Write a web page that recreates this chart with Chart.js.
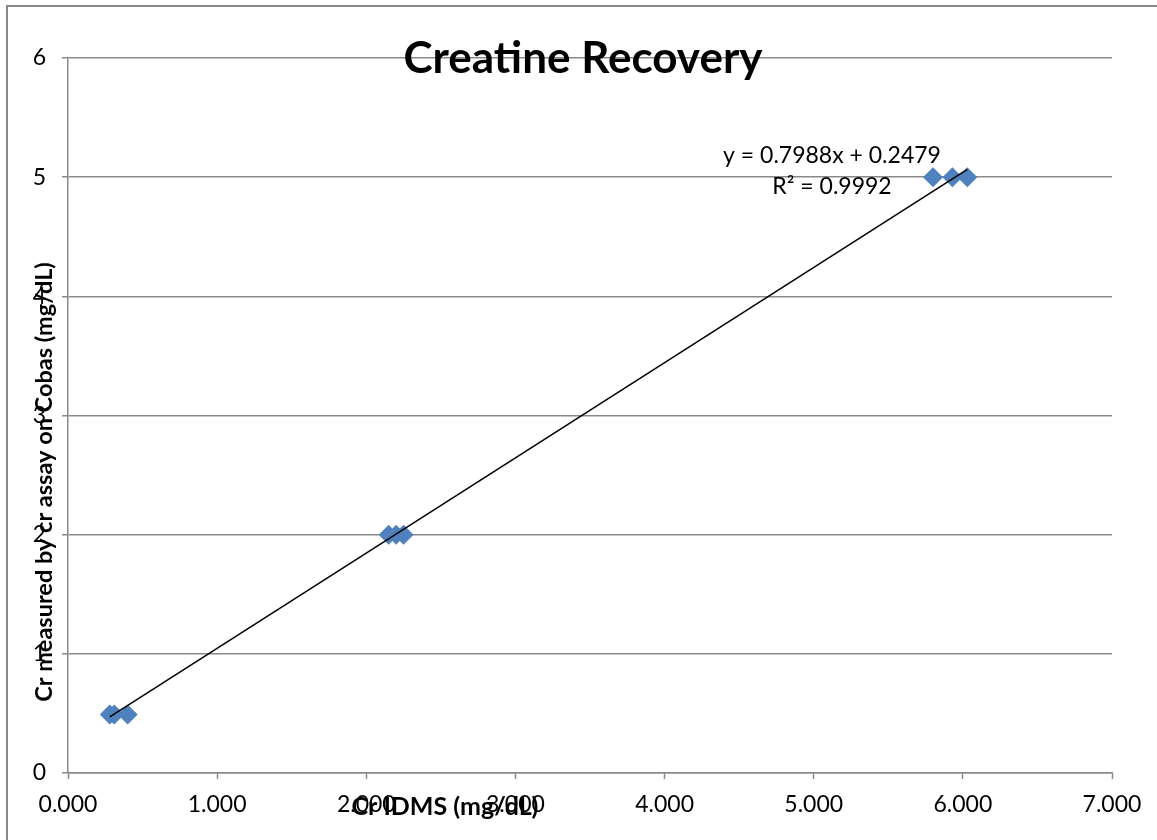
<!DOCTYPE html>
<html>
<head>
<meta charset="utf-8">
<title>Creatine Recovery</title>
<script src="https://cdn.jsdelivr.net/npm/chart.js"></script>
<style>
  html, body { margin: 0; padding: 0; background: #fff; }
  canvas { display: block; }
</style>
</head>
<body>
<canvas id="grafik" width="1157" height="840"></canvas>
<script>
// Data
const judulGrafik = 'Creatine Recovery';
const judulSumbuX = 'Cr IDMS (mg/dL)';
const judulSumbuY = 'Cr measured by cr assay on Cobas (mg/dL)';

const crIdms  = [0.28, 0.31, 0.40, 2.15, 2.20, 2.25, 5.80, 5.93, 6.03];
const crCobas = [0.49, 0.49, 0.49, 2.00, 2.00, 2.00, 5.00, 5.00, 5.00];

const labelTickX = ['0.000', '1.000', '2.000', '3.000', '4.000', '5.000', '6.000', '7.000'];
const labelTickY = ['0', '1', '2', '3', '4', '5', '6'];

// Garis tren (dari label persamaan)
const kemiringan = 0.7988;
const intersep = 0.2479;
const teksPersamaan = ['y = 0.7988x + 0.2479', 'R² = 0.9992'];

const abu = '#898989';

// titik-titik untuk scatter
const titikData = crIdms.map((x, i) => ({ x: x, y: crCobas[i] }));
const xMin = Math.min(...crIdms);
const xMax = Math.max(...crIdms);
const titikTren = [
  { x: xMin, y: kemiringan * xMin + intersep },
  { x: xMax, y: kemiringan * xMax + intersep }
];

// Plugin untuk latar, bingkai, judul dan teks persamaan
const pluginTeks = {
  id: 'pluginTeks',
  beforeDraw(chart) {
    const ctx = chart.ctx;
    ctx.save();
    ctx.fillStyle = '#fff';
    ctx.fillRect(0, 0, chart.width, chart.height);
    ctx.strokeStyle = abu;
    ctx.lineWidth = 2;
    ctx.beginPath();
    ctx.moveTo(7, chart.height);
    ctx.lineTo(7, 6);
    ctx.lineTo(chart.width, 6);
    ctx.stroke();
    ctx.restore();
  },
  afterDraw(chart) {
    const ctx = chart.ctx;
    ctx.save();
    ctx.fillStyle = '#000';
    ctx.textAlign = 'center';
    ctx.textBaseline = 'alphabetic';

    ctx.font = 'bold 44px Lato';
    ctx.fillText(judulGrafik, 583, 73);

    ctx.font = '23px Lato';
    ctx.fillText(teksPersamaan[0], 832, 163);
    ctx.fillText(teksPersamaan[1], 832, 194);

    ctx.font = 'bold 25px Lato';
    ctx.fillText(judulSumbuX, 445, 815);

    ctx.font = 'bold 23.5px Lato';
    ctx.translate(52, 482);
    ctx.rotate(-Math.PI / 2);
    ctx.fillText(judulSumbuY, 0, 0);
    ctx.restore();
  }
};

new Chart(document.getElementById('grafik').getContext('2d'), {
  type: 'scatter',
  data: {
    datasets: [
      {
        type: 'line',
        label: 'Tren',
        data: titikTren,
        borderColor: '#000',
        borderWidth: 1.5,
        pointRadius: 0,
        fill: false,
        order: 0
      },
      {
        label: 'Cr',
        data: titikData,
        pointStyle: 'rectRot',
        pointRadius: 10,
        backgroundColor: '#4F81BD',
        borderColor: '#4F81BD',
        borderWidth: 0,
        order: 1
      }
    ]
  },
  options: {
    responsive: false,
    animation: false,
    devicePixelRatio: 1,
    layout: { padding: { left: 0, right: 45, top: 58, bottom: 0 } },
    plugins: {
      legend: { display: false },
      tooltip: { enabled: false },
      title: { display: false }
    },
    scales: {
      x: {
        type: 'linear',
        min: 0,
        max: 7,
        afterFit: (s) => { s.height = 67; },
        border: { display: true, color: abu, width: 1.5 },
        grid: { drawOnChartArea: false, drawTicks: true, tickLength: 6, tickColor: abu, tickWidth: 1.5 },
        ticks: {
          stepSize: 1,
          padding: 12,
          color: '#000',
          font: { family: 'Lato', size: 23 },
          maxRotation: 0,
          callback: (v, i) => labelTickX[i]
        }
      },
      y: {
        min: 0,
        max: 6,
        afterFit: (s) => { s.width = 68; },
        border: { display: true, color: abu, width: 1.5 },
        grid: { color: abu, lineWidth: 1.5, drawTicks: true, tickLength: 6, tickColor: abu, tickWidth: 1.5 },
        ticks: {
          stepSize: 1,
          padding: 16,
          color: '#000',
          font: { family: 'Lato', size: 23 },
          callback: (v, i) => labelTickY[i]
        }
      }
    }
  },
  plugins: [pluginTeks]
});
</script>
</body>
</html>
